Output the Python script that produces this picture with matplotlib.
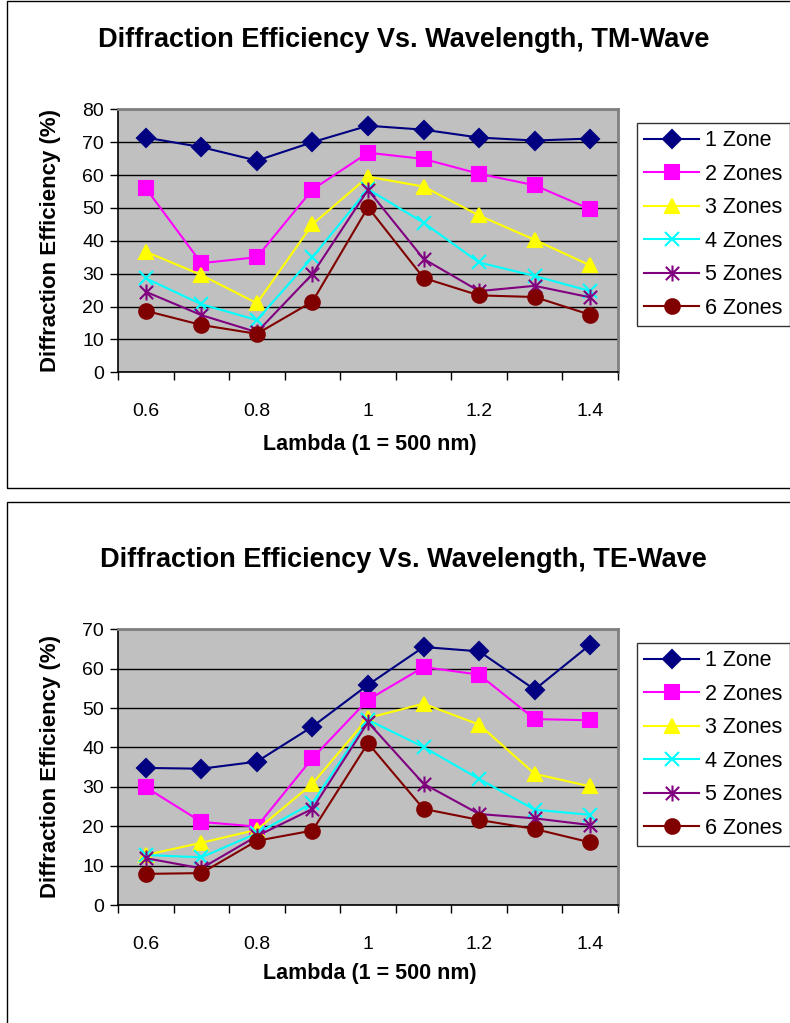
import numpy as np
import matplotlib
matplotlib.use('Agg')
import matplotlib.pyplot as plt
from matplotlib.patches import Rectangle
from matplotlib.path import Path

plt.rcParams['font.family'] = ['Liberation Sans', 'DejaVu Sans']

# wavelength categories (1 = 500 nm)
lambdas = [0.6, 0.7, 0.8, 0.9, 1.0, 1.1, 1.2, 1.3, 1.4]
tick_text = ['0.6', '0.8', '1', '1.2', '1.4']
zones = ['1 Zone', '2 Zones', '3 Zones', '4 Zones', '5 Zones', '6 Zones']

# TM-wave efficiency (%)
tm_1 = [71.4, 68.5, 64.4, 70.0, 75.0, 73.8, 71.4, 70.5, 71.1]
tm_2 = [56.0, 33.2, 35.0, 55.6, 66.8, 64.9, 60.4, 56.9, 49.6]
tm_3 = [36.7, 29.6, 21.0, 45.0, 59.5, 56.5, 47.7, 40.3, 32.5]
tm_4 = [28.6, 20.7, 15.9, 35.0, 55.7, 45.5, 33.4, 29.3, 24.7]
tm_5 = [24.5, 17.4, 12.2, 29.9, 55.5, 34.5, 24.7, 26.3, 22.8]
tm_6 = [18.7, 14.4, 11.7, 21.5, 50.2, 28.7, 23.4, 22.9, 17.5]

# TE-wave efficiency (%)
te_1 = [34.8, 34.6, 36.4, 45.3, 55.9, 65.5, 64.4, 54.7, 66.1]
te_2 = [29.9, 21.1, 19.9, 37.3, 52.1, 60.4, 58.5, 47.2, 46.9]
te_3 = [12.7, 15.8, 19.1, 30.8, 47.5, 51.1, 45.8, 33.3, 30.1]
te_4 = [12.7, 12.1, 18.2, 25.9, 47.0, 40.1, 32.0, 24.2, 22.9]
te_5 = [11.9, 9.3, 17.5, 24.4, 46.4, 30.8, 23.1, 22.0, 20.3]
te_6 = [7.9, 8.1, 16.3, 18.9, 41.1, 24.4, 21.6, 19.3, 15.9]

colors = ['#000080', '#FF00FF', '#FFFF00', '#00FFFF', '#800080', '#800000']

# excel style star: X with a vertical bar
star = Path([(-0.5, -0.5), (0.5, 0.5), (-0.5, 0.5), (0.5, -0.5), (0, -0.6), (0, 0.6)],
            [Path.MOVETO, Path.LINETO, Path.MOVETO, Path.LINETO, Path.MOVETO, Path.LINETO])
markers = ['D', 's', '^', 'x', star, 'o']
msizes = [9.5, 10, 10.5, 9.5, 11.5, 10.5]


def draw_chart(fig, rect, series, ymax, title, title_y, leg_xy, ylab_y, xlab_y):
    ax = fig.add_axes(rect)
    ax.set_facecolor('#C0C0C0')
    x = np.arange(len(lambdas))
    for i, vals in enumerate(series):
        ax.plot(x, vals, color=colors[i], marker=markers[i], markersize=msizes[i],
                markerfacecolor=colors[i], markeredgecolor=colors[i],
                markeredgewidth=1.5, linewidth=1.5, label=zones[i], clip_on=False)
    ax.set_xlim(-0.5, len(lambdas) - 0.5)
    ax.set_ylim(0, ymax)
    ax.set_yticks(np.arange(0, ymax + 1, 10))
    ax.yaxis.grid(True, color='black', linewidth=1)
    ax.set_axisbelow(True)
    # tick marks between categories, labels on every other category
    ax.set_xticks(np.arange(-0.5, len(lambdas), 1))
    ax.set_xticklabels([])
    ax.set_xticks(x[::2], minor=True)
    ax.set_xticklabels(tick_text, minor=True)
    ax.tick_params(axis='x', which='major', direction='out', length=6, width=1)
    ax.tick_params(axis='x', which='minor', length=0, pad=22, labelsize=14)
    ax.tick_params(axis='y', direction='out', length=6, width=1, pad=4, labelsize=14)
    for s in ['top', 'right']:
        ax.spines[s].set_color('#808080')
        ax.spines[s].set_linewidth(2)
    for s in ['left', 'bottom']:
        ax.spines[s].set_color('black')
        ax.spines[s].set_linewidth(1.2)

    fig.text(0.511, title_y, title, ha='center', va='center', fontsize=19.5, fontweight='bold')
    fig.text(0.064, ylab_y, 'Diffraction Efficiency (%)', rotation=90, ha='center',
             va='center', fontsize=16, fontweight='bold')
    fig.text(0.4685, xlab_y, 'Lambda (1 = 500 nm)', ha='center', va='center',
             fontsize=15.5, fontweight='bold')

    leg = fig.legend(*ax.get_legend_handles_labels(), loc='upper left',
                     bbox_to_anchor=leg_xy, fontsize=15.5, frameon=True, fancybox=False,
                     borderaxespad=0, handlelength=2.55, handletextpad=0.28,
                     labelspacing=0.58, borderpad=0.33)
    leg.get_frame().set_edgecolor('black')
    leg.get_frame().set_linewidth(1)
    return ax


W, H = 790, 1023
fig = plt.figure(figsize=(W / 100, H / 100), dpi=100)

# chart frames
fig.patches.append(Rectangle((6.5 / W, 1 - 488 / H), 1, 487 / H, transform=fig.transFigure,
                             fill=False, edgecolor='black', linewidth=1))
fig.patches.append(Rectangle((6.5 / W, -0.01), 1, 1 - 502 / H + 0.01, transform=fig.transFigure,
                             fill=False, edgecolor='black', linewidth=1))

draw_chart(fig, [118 / W, 1 - 372.3 / H, 500 / W, 263 / H],
           [tm_1, tm_2, tm_3, tm_4, tm_5, tm_6], 80,
           'Diffraction Efficiency Vs. Wavelength, TM-Wave', 1 - 40 / H,
           (637 / W, 1 - 123 / H), 1 - 241 / H, 1 - 444 / H)

draw_chart(fig, [118 / W, 1 - 905 / H, 500 / W, 275.7 / H],
           [te_1, te_2, te_3, te_4, te_5, te_6], 70,
           'Diffraction Efficiency Vs. Wavelength, TE-Wave', 1 - 560 / H,
           (637 / W, 1 - 643 / H), 1 - 767 / H, 1 - 973 / H)

fig.savefig('out.png', dpi=100)
